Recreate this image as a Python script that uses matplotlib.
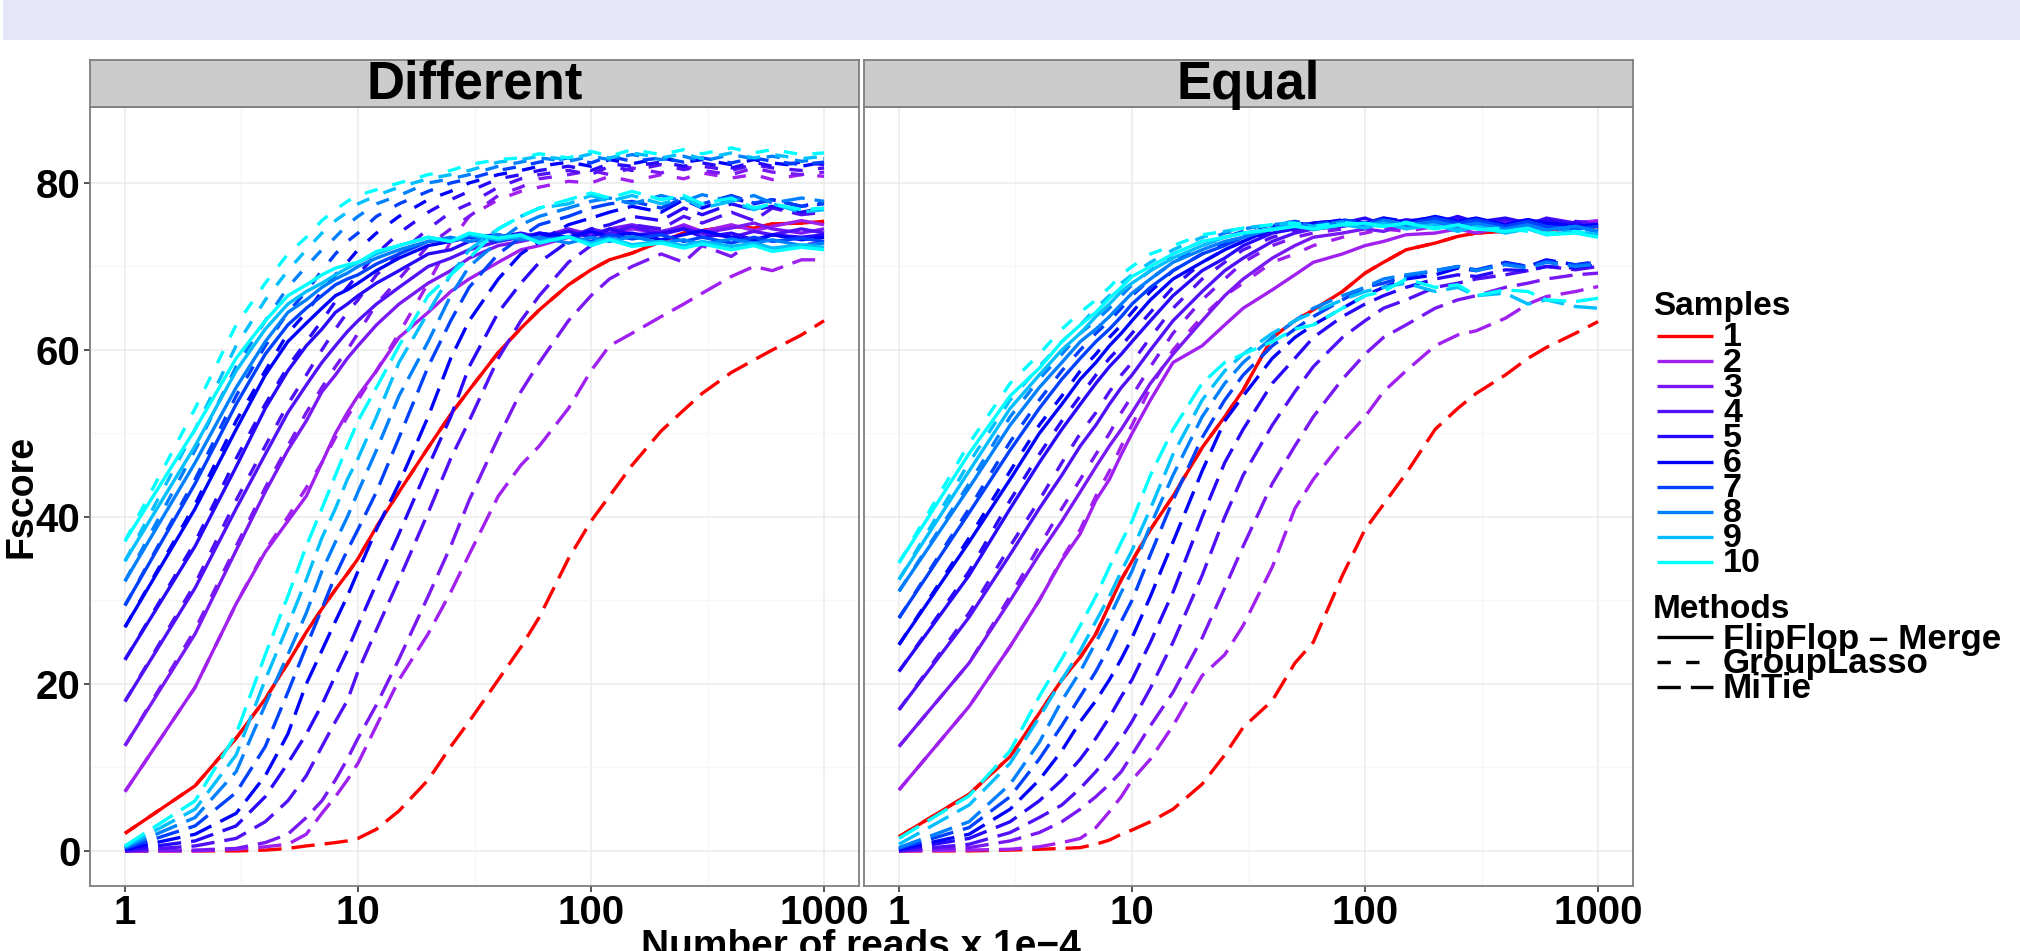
"""Fscore against read depth for three assemblers, faceted by sample design (Different / Equal)."""
import matplotlib
matplotlib.use("Agg")
import matplotlib.pyplot as plt
from matplotlib.lines import Line2D
from matplotlib.patches import Rectangle

plt.rcParams["font.family"] = ["Liberation Sans", "DejaVu Sans"]
plt.rcParams["font.weight"] = "bold"

# ---- data ------------------------------------------------------------------------
READS = [1, 2, 3, 4, 5, 6, 7, 8, 9, 10, 12, 15, 20, 25, 30, 40, 50, 60, 80, 100,
         120, 150, 200, 250, 300, 400, 500, 600, 800, 1000]
SAMPLES = ["1", "2", "3", "4", "5", "6", "7", "8", "9", "10"]
METHODS = ["FlipFlop \u2013 Merge", "GroupLasso", "MiTie"]
PANELS = ["Different", "Equal"]
COLOURS = ["#FF0000", "#A020F0", "#7818F4", "#5010F8", "#2808FB",
           "#0000FF", "#0040FF", "#0080FF", "#00BFFF", "#00FFFF"]
X_TICKS = [1, 10, 100, 1000]
X_TICKLABELS = ["1", "10", "100", "1000"]
Y_TICKS = [0, 20, 40, 60, 80]

diff_flipflop = [
    [2.1, 7.8, 13.5, 18.2, 22.5, 26.2, 29.0, 31.3, 33.2, 35.0, 38.8, 43.0, 48.3, 52.3, 55.2, 59.7, 62.6, 64.8, 67.8, 69.6, 70.8, 71.6, 73.0, 74.0, 74.3, 74.8, 74.6, 75.1, 75.2, 75.4],
    [7.1, 19.6, 29.6, 35.8, 39.5, 42.5, 46.5, 50.0, 52.5, 54.5, 57.5, 61.5, 64.5, 67.0, 68.5, 70.5, 72.0, 72.5, 73.5, 74.0, 73.5, 74.5, 74.0, 75.0, 74.2, 75.0, 74.3, 74.8, 75.5, 75.0],
    [12.6, 26.0, 36.0, 43.0, 48.0, 51.5, 55.0, 57.0, 59.0, 60.5, 63.0, 65.5, 68.0, 69.5, 71.0, 72.5, 73.0, 73.5, 74.5, 73.8, 74.5, 75.0, 74.2, 74.8, 74.0, 74.6, 75.2, 74.5, 74.0, 74.5],
    [17.9, 31.5, 41.0, 47.5, 52.5, 55.8, 58.5, 60.5, 62.2, 63.5, 65.5, 67.5, 70.0, 71.0, 72.0, 73.0, 73.5, 74.0, 73.5, 74.5, 74.0, 74.8, 73.8, 74.5, 74.0, 73.5, 74.2, 73.8, 74.5, 74.0],
    [22.9, 36.5, 46.0, 53.0, 57.5, 60.5, 62.5, 64.5, 65.5, 66.5, 68.0, 69.5, 71.5, 72.0, 73.0, 73.5, 74.0, 73.5, 74.2, 73.5, 74.5, 73.8, 74.0, 74.5, 73.5, 74.0, 73.2, 73.8, 73.5, 73.8],
    [26.8, 41.0, 50.5, 57.0, 61.0, 63.2, 65.0, 66.5, 67.2, 68.0, 69.5, 71.0, 72.5, 73.0, 73.5, 73.8, 73.2, 74.0, 73.5, 74.2, 73.6, 74.0, 73.2, 73.8, 74.3, 73.5, 73.0, 73.8, 73.2, 73.5],
    [29.4, 44.0, 53.5, 59.5, 63.0, 65.0, 66.5, 67.8, 68.5, 69.0, 70.3, 71.5, 73.0, 73.2, 73.5, 73.0, 73.8, 73.2, 73.6, 73.0, 73.8, 73.3, 73.8, 73.0, 73.5, 72.8, 73.5, 73.0, 73.4, 73.0],
    [32.3, 46.5, 55.5, 61.0, 64.5, 66.0, 67.5, 68.5, 69.2, 70.0, 71.0, 72.0, 73.0, 73.5, 73.0, 73.8, 73.2, 73.5, 72.8, 73.5, 73.0, 73.6, 72.8, 73.2, 72.6, 73.3, 72.8, 73.2, 72.5, 72.8],
    [34.7, 48.5, 57.5, 62.5, 65.5, 67.0, 68.0, 69.0, 69.8, 70.5, 71.5, 72.5, 73.5, 73.0, 73.8, 73.2, 73.6, 73.0, 73.5, 72.8, 73.4, 72.6, 73.0, 72.5, 73.0, 72.4, 72.8, 72.2, 72.6, 72.3],
    [37.1, 50.5, 59.0, 63.5, 66.5, 67.8, 69.0, 69.8, 70.2, 70.5, 71.8, 72.5, 73.5, 73.0, 74.0, 73.4, 73.8, 72.8, 73.6, 72.5, 73.2, 72.4, 72.8, 72.2, 72.7, 72.0, 72.5, 71.8, 72.3, 72.0],
]
diff_grouplasso = [
    [2.1, 7.8, 13.5, 18.2, 22.5, 26.2, 29.0, 31.3, 33.2, 35.0, 38.8, 43.0, 48.3, 52.3, 55.2, 59.7, 62.6, 64.8, 67.8, 69.6, 70.8, 71.6, 73.0, 74.0, 74.3, 74.8, 74.6, 75.1, 75.2, 75.4],
    [7.1, 19.6, 29.6, 36.0, 40.0, 43.5, 46.5, 49.5, 52.0, 54.0, 57.5, 62.0, 68.0, 73.0, 76.0, 78.0, 79.0, 79.5, 80.2, 80.0, 80.8, 80.2, 81.0, 80.5, 81.2, 80.6, 81.0, 80.4, 81.0, 80.8],
    [12.6, 26.5, 36.5, 43.5, 48.5, 52.5, 55.5, 58.0, 60.0, 62.0, 65.5, 68.5, 72.5, 74.5, 76.0, 78.5, 79.5, 80.5, 81.0, 81.5, 81.0, 81.8, 81.2, 82.0, 81.5, 81.0, 81.8, 81.3, 81.0, 81.3],
    [17.9, 32.0, 42.0, 48.5, 53.5, 57.0, 60.0, 62.5, 64.5, 66.0, 69.0, 71.5, 74.5, 76.5, 77.5, 79.5, 80.5, 81.0, 81.5, 81.0, 82.0, 81.5, 82.2, 81.6, 82.0, 81.5, 82.2, 81.8, 81.5, 81.8],
    [22.9, 37.0, 47.0, 53.5, 58.0, 61.0, 63.5, 65.8, 67.5, 69.0, 71.5, 74.0, 76.5, 78.0, 79.0, 80.5, 81.0, 81.5, 82.0, 81.5, 82.3, 82.0, 82.5, 82.0, 82.4, 81.8, 82.5, 82.0, 82.5, 82.2],
    [26.8, 41.5, 51.5, 57.5, 62.0, 64.5, 67.0, 69.0, 70.5, 72.0, 74.0, 76.0, 78.0, 79.0, 80.0, 81.0, 81.5, 82.0, 82.5, 82.0, 82.8, 82.3, 83.0, 82.5, 82.8, 82.2, 82.8, 82.4, 82.0, 82.5],
    [29.4, 44.5, 54.5, 60.5, 64.5, 67.0, 69.5, 71.5, 73.0, 74.0, 76.0, 77.5, 79.0, 80.0, 80.5, 81.5, 82.0, 82.5, 83.0, 82.4, 83.2, 82.6, 83.0, 82.5, 83.0, 82.4, 83.0, 82.6, 82.2, 82.5],
    [32.3, 48.0, 58.0, 63.5, 67.5, 70.0, 72.0, 73.5, 75.0, 76.0, 77.5, 78.5, 80.0, 80.5, 81.0, 82.0, 82.5, 83.0, 82.6, 83.2, 82.8, 83.4, 82.8, 83.2, 82.6, 83.4, 82.9, 83.2, 82.6, 82.9],
    [34.7, 50.5, 60.5, 66.0, 69.5, 72.0, 74.0, 75.5, 76.5, 77.5, 78.5, 79.5, 80.5, 81.0, 81.5, 82.5, 82.8, 83.2, 82.8, 83.5, 83.0, 83.6, 83.0, 83.5, 82.9, 83.6, 83.0, 83.4, 82.9, 83.2],
    [37.1, 53.0, 63.0, 68.0, 71.5, 73.5, 75.5, 76.8, 77.8, 78.5, 79.2, 80.0, 81.0, 81.5, 82.2, 82.8, 83.0, 83.5, 83.0, 83.8, 83.2, 84.0, 83.4, 84.0, 83.5, 84.2, 83.6, 84.0, 83.4, 83.6],
]
diff_mitie = [
    [0.0, 0.0, 0.0, 0.1, 0.3, 0.6, 0.8, 1.0, 1.2, 1.5, 2.6, 4.8, 8.5, 12.5, 15.5, 20.5, 24.4, 28.0, 35.0, 39.5, 42.5, 46.2, 50.3, 52.8, 54.8, 57.3, 58.8, 60.0, 61.8, 63.5],
    [0.0, 0.0, 0.2, 0.5, 0.8, 2.0, 4.5, 6.5, 8.5, 10.5, 15.0, 20.5, 26.0, 31.0, 35.5, 42.5, 46.2, 48.5, 53.0, 57.5, 60.5, 62.0, 64.0, 65.5, 66.8, 68.8, 70.0, 69.5, 70.8, 70.8],
    [0.0, 0.1, 0.3, 1.0, 2.0, 4.0, 6.0, 8.5, 11.0, 13.5, 17.5, 23.0, 30.5, 36.5, 42.0, 49.5, 55.0, 58.5, 63.5, 66.5, 68.5, 70.0, 71.5, 70.5, 72.5, 71.2, 73.0, 72.0, 72.5, 73.0],
    [0.0, 0.6, 1.5, 3.5, 6.0, 9.0, 12.5, 15.5, 18.0, 21.5, 26.5, 32.5, 40.5, 47.0, 51.5, 59.0, 63.5, 66.5, 70.5, 72.5, 73.5, 75.0, 74.5, 76.0, 75.2, 76.5, 75.5, 77.0, 76.2, 76.5],
    [0.1, 1.2, 3.0, 6.5, 10.5, 14.0, 17.5, 21.0, 24.0, 27.0, 32.0, 38.0, 46.0, 52.0, 58.0, 64.5, 68.0, 70.5, 73.0, 74.5, 75.0, 76.0, 75.5, 77.0, 76.2, 77.5, 76.8, 77.2, 76.5, 77.0],
    [0.2, 2.0, 4.5, 9.0, 14.0, 20.0, 24.0, 27.5, 30.5, 33.5, 38.5, 44.0, 52.0, 59.0, 63.5, 68.5, 71.5, 73.0, 75.0, 75.8, 76.5, 77.2, 76.5, 78.0, 77.0, 78.2, 77.5, 78.0, 77.2, 77.8],
    [0.3, 3.0, 7.0, 12.5, 19.0, 24.5, 29.0, 33.0, 36.0, 38.5, 43.0, 49.5, 58.0, 63.5, 67.5, 71.5, 73.5, 75.0, 76.0, 77.0, 77.5, 77.8, 77.0, 78.2, 77.5, 78.5, 77.6, 78.0, 77.2, 77.5],
    [0.4, 4.0, 9.5, 17.5, 23.5, 28.5, 33.5, 37.0, 40.0, 43.0, 48.0, 54.5, 61.0, 66.5, 70.0, 73.0, 75.0, 76.0, 77.0, 77.8, 78.2, 77.5, 78.5, 77.8, 78.6, 77.8, 78.5, 77.6, 78.2, 77.8],
    [0.5, 5.0, 11.5, 20.5, 27.0, 32.5, 37.5, 41.0, 44.5, 47.0, 52.0, 58.5, 64.5, 69.0, 72.0, 74.5, 76.0, 77.0, 77.5, 78.5, 77.8, 78.5, 77.5, 78.2, 77.0, 77.8, 76.8, 77.5, 76.5, 76.8],
    [0.6, 6.0, 14.0, 23.5, 30.5, 36.5, 41.0, 45.0, 48.5, 51.5, 55.5, 60.5, 66.5, 69.0, 71.0, 74.5, 76.0, 77.0, 78.0, 78.8, 78.2, 79.0, 78.0, 78.5, 77.5, 78.2, 77.0, 77.5, 76.8, 77.0],
]
equal_flipflop = [
    [1.7, 6.8, 11.3, 16.5, 20.5, 23.2, 26.0, 29.5, 32.5, 34.7, 38.5, 42.5, 48.3, 52.0, 55.2, 61.5, 63.5, 64.8, 67.0, 69.2, 70.5, 72.0, 72.8, 73.6, 74.0, 74.2, 74.5, 74.3, 74.6, 74.8],
    [7.3, 17.3, 24.5, 30.0, 34.8, 38.0, 42.0, 44.5, 47.5, 50.0, 54.0, 58.5, 60.5, 63.0, 65.0, 67.2, 69.0, 70.5, 71.5, 72.5, 73.0, 73.8, 74.0, 74.5, 74.0, 74.8, 74.5, 75.0, 75.2, 75.5],
    [12.5, 22.5, 30.0, 35.5, 39.5, 43.0, 46.0, 48.5, 50.5, 52.5, 56.0, 59.5, 63.5, 66.5, 68.5, 71.0, 72.5, 73.5, 74.0, 74.5, 74.2, 75.0, 74.6, 75.2, 74.8, 75.3, 74.8, 75.5, 75.0, 75.2],
    [16.9, 28.0, 35.5, 41.0, 45.0, 48.5, 51.0, 53.5, 55.5, 57.0, 60.0, 63.5, 67.0, 69.5, 71.0, 73.0, 74.0, 74.5, 74.8, 75.3, 74.8, 75.5, 75.0, 75.8, 75.2, 75.6, 75.0, 75.8, 75.2, 75.0],
    [21.5, 33.0, 41.0, 46.5, 50.5, 53.5, 56.0, 58.0, 59.5, 61.0, 63.5, 66.5, 69.5, 71.0, 72.5, 74.0, 74.5, 75.0, 75.2, 75.8, 75.0, 75.6, 75.2, 76.0, 75.3, 75.8, 75.2, 75.6, 75.0, 74.8],
    [24.7, 37.0, 44.5, 50.0, 53.5, 56.5, 58.5, 60.5, 62.0, 63.5, 66.0, 68.5, 70.5, 72.0, 73.0, 74.5, 74.8, 75.2, 75.5, 75.0, 75.8, 75.2, 76.0, 75.4, 75.8, 75.0, 75.6, 75.2, 74.8, 75.0],
    [27.9, 40.5, 48.0, 53.0, 56.5, 59.0, 61.0, 62.5, 64.0, 65.5, 67.5, 69.5, 71.5, 72.5, 73.5, 74.5, 75.0, 74.6, 75.4, 75.0, 75.6, 75.0, 75.8, 75.2, 75.6, 74.8, 75.4, 74.8, 74.5, 74.8],
    [31.1, 43.5, 51.0, 55.5, 58.5, 61.0, 62.5, 64.0, 65.5, 66.8, 68.5, 70.5, 72.0, 73.0, 73.5, 74.5, 75.0, 74.5, 75.2, 74.8, 75.5, 74.8, 75.4, 74.8, 75.2, 74.5, 75.0, 74.4, 74.8, 74.2],
    [32.5, 45.5, 53.0, 57.0, 60.0, 62.0, 64.0, 65.5, 67.0, 68.0, 69.5, 71.0, 72.5, 73.5, 74.0, 74.5, 75.0, 74.4, 75.0, 74.6, 75.2, 74.5, 75.0, 74.2, 74.8, 74.0, 74.5, 73.8, 74.2, 73.8],
    [34.5, 47.6, 54.5, 57.8, 61.0, 63.0, 64.5, 66.2, 67.5, 68.8, 70.0, 71.5, 73.0, 73.5, 74.0, 74.4, 74.8, 74.5, 75.0, 75.2, 74.8, 75.2, 74.5, 75.0, 74.5, 74.2, 74.6, 73.8, 74.0, 73.5],
]
equal_grouplasso = [
    [1.7, 6.8, 11.3, 16.5, 20.5, 23.2, 26.0, 29.5, 32.5, 34.7, 38.5, 42.5, 48.3, 52.0, 55.2, 61.5, 63.5, 64.8, 67.0, 69.2, 70.5, 72.0, 72.8, 73.6, 74.0, 74.2, 74.5, 74.3, 74.6, 74.8],
    [7.3, 17.3, 24.5, 30.0, 35.0, 38.5, 42.5, 45.5, 48.5, 51.0, 55.5, 60.0, 64.0, 66.5, 68.0, 70.5, 71.5, 72.5, 73.5, 74.0, 74.5, 74.2, 74.8, 75.0, 74.6, 75.2, 74.8, 75.4, 75.0, 75.2],
    [12.5, 22.5, 30.5, 36.5, 41.0, 44.5, 47.5, 50.0, 52.5, 54.5, 58.0, 62.0, 66.0, 68.5, 70.5, 72.5, 73.5, 74.0, 74.5, 75.0, 74.6, 75.2, 74.8, 75.4, 75.0, 75.5, 75.0, 75.3, 74.8, 75.0],
    [16.9, 28.5, 36.5, 42.0, 46.5, 50.0, 52.5, 55.0, 57.0, 58.5, 61.5, 65.0, 68.5, 70.5, 72.0, 73.5, 74.2, 74.8, 75.2, 75.0, 75.5, 75.0, 75.6, 75.2, 75.8, 75.2, 75.6, 75.0, 75.4, 75.2],
    [21.5, 33.5, 42.0, 47.5, 51.5, 54.5, 57.0, 59.0, 60.5, 62.0, 64.5, 67.5, 70.5, 72.0, 73.0, 74.2, 74.8, 75.2, 75.5, 75.2, 75.8, 75.3, 75.8, 75.2, 75.6, 75.0, 75.5, 75.0, 75.2, 74.8],
    [24.7, 37.5, 45.5, 51.0, 54.5, 57.5, 59.5, 61.5, 63.0, 64.5, 67.0, 69.5, 71.5, 72.8, 73.8, 74.8, 75.2, 75.0, 75.6, 75.2, 75.8, 75.4, 75.9, 75.3, 75.6, 75.0, 75.4, 75.0, 74.7, 75.0],
    [27.9, 41.0, 49.0, 54.0, 57.5, 60.0, 62.0, 63.5, 65.0, 66.5, 68.5, 70.5, 72.5, 73.5, 74.2, 75.0, 75.4, 75.0, 75.6, 75.2, 75.6, 75.0, 75.6, 75.0, 75.4, 74.8, 75.2, 74.6, 74.8, 74.5],
    [31.1, 44.0, 52.0, 56.5, 59.5, 62.0, 63.5, 65.0, 66.5, 67.8, 69.5, 71.5, 73.0, 74.0, 74.5, 75.0, 75.3, 74.8, 75.4, 75.0, 75.6, 75.0, 75.3, 74.7, 75.0, 74.5, 74.8, 74.3, 74.6, 74.2],
    [32.5, 46.5, 54.0, 58.0, 61.0, 63.0, 65.0, 66.5, 68.0, 69.0, 70.5, 72.0, 73.5, 74.2, 74.6, 75.0, 75.3, 74.8, 75.2, 74.8, 75.3, 74.6, 75.0, 74.4, 74.8, 74.2, 74.5, 74.0, 74.2, 73.8],
    [34.5, 48.8, 56.0, 59.5, 62.5, 64.5, 66.0, 67.5, 69.0, 70.0, 71.5, 72.5, 73.8, 74.2, 74.6, 75.0, 75.2, 74.8, 75.3, 75.0, 74.8, 75.3, 74.6, 75.0, 74.4, 74.6, 74.2, 74.0, 74.2, 73.8],
]
equal_mitie = [
    [0.0, 0.0, 0.1, 0.2, 0.3, 0.4, 0.8, 1.3, 2.0, 2.5, 3.5, 5.0, 8.0, 11.5, 14.8, 18.0, 22.5, 25.0, 33.0, 38.5, 41.5, 45.2, 50.5, 53.0, 54.8, 57.0, 59.0, 60.3, 62.0, 63.4],
    [0.0, 0.1, 0.2, 0.5, 1.0, 1.5, 2.8, 4.7, 6.5, 8.5, 11.0, 15.0, 21.0, 23.5, 27.0, 34.0, 41.0, 44.5, 49.0, 52.0, 55.0, 57.5, 60.5, 61.8, 62.3, 63.8, 65.5, 66.4, 67.0, 67.6],
    [0.0, 0.4, 1.2, 2.2, 3.5, 5.0, 6.5, 8.0, 9.5, 11.5, 15.0, 19.0, 25.5, 31.5, 36.5, 44.0, 48.5, 52.0, 56.5, 59.5, 61.5, 63.0, 65.0, 66.0, 66.5, 67.5, 68.0, 68.5, 69.0, 69.2],
    [0.0, 0.8, 2.2, 4.0, 5.5, 7.5, 9.5, 11.5, 13.5, 15.5, 19.5, 25.0, 33.0, 40.0, 45.0, 51.0, 55.0, 58.0, 61.5, 63.5, 65.0, 66.0, 67.5, 68.0, 68.5, 69.0, 69.5, 70.0, 69.6, 70.0],
    [0.1, 1.5, 3.5, 6.0, 8.5, 11.0, 13.5, 16.0, 18.5, 20.5, 25.0, 31.0, 40.0, 46.5, 50.5, 56.0, 59.0, 61.5, 64.0, 65.5, 66.5, 67.5, 68.5, 69.0, 68.8, 69.6, 69.5, 70.0, 69.8, 70.2],
    [0.2, 2.0, 5.0, 8.5, 12.0, 15.5, 18.0, 20.5, 23.0, 25.5, 30.5, 37.0, 45.5, 51.5, 54.5, 59.0, 61.5, 63.0, 65.0, 66.5, 67.5, 68.5, 69.0, 69.8, 69.5, 70.5, 70.0, 70.8, 70.2, 70.6],
    [0.3, 2.8, 6.5, 11.0, 15.0, 18.5, 21.5, 24.5, 27.5, 30.0, 35.5, 42.0, 49.5, 54.0, 57.0, 60.5, 62.5, 64.0, 66.0, 67.5, 68.0, 68.8, 69.5, 70.0, 69.6, 70.4, 70.0, 70.6, 70.2, 70.5],
    [0.4, 3.5, 8.0, 13.0, 18.0, 21.5, 25.0, 28.0, 31.0, 33.5, 39.0, 45.0, 52.0, 56.0, 58.5, 61.5, 63.5, 65.0, 66.5, 67.5, 68.5, 69.0, 69.5, 70.0, 69.5, 70.2, 69.8, 70.5, 70.0, 70.3],
    [0.8, 5.5, 10.5, 16.0, 20.5, 24.0, 27.5, 30.5, 33.5, 36.0, 41.0, 47.5, 54.0, 57.5, 59.5, 62.0, 63.5, 64.5, 66.0, 67.0, 67.5, 68.0, 67.0, 67.5, 66.5, 66.8, 65.5, 66.0, 65.2, 65.0],
    [1.5, 6.6, 12.0, 18.5, 23.0, 27.0, 30.5, 34.0, 37.0, 39.5, 45.0, 50.5, 56.0, 58.5, 59.5, 61.0, 62.5, 63.0, 65.0, 66.5, 67.0, 68.5, 67.5, 67.8, 66.5, 67.2, 67.0, 66.0, 65.8, 66.2],
]

# ---- layout (pixel boxes of the 2020x951 canvas) ----------------------------------
W, H = 2020, 951
LW = 2.4
DASHES = [None, (4, 4.6), (7, 3)]
GREY_BORDER = "#7F7F7F"


def box(x0, y0, x1, y1):
    return [x0 / W, 1 - y1 / H, (x1 - x0) / W, (y1 - y0) / H]


fig = plt.figure(figsize=(W / 100, H / 100), dpi=100)
fig.patches.append(Rectangle((3 / W, 1 - 40 / H), 1, 40 / H, transform=fig.transFigure,
                             facecolor="#E6E6FA", edgecolor="none", zorder=0))

panel_boxes = [(90, 859), (864, 1633)]
tables = [(diff_flipflop, diff_grouplasso, diff_mitie),
          (equal_flipflop, equal_grouplasso, equal_mitie)]

for p, (name, (x0, x1), data) in enumerate(zip(PANELS, panel_boxes, tables)):
    ax = fig.add_axes(box(x0, 107, x1, 886))
    ax.set_xscale("log")
    ax.set_xlim(10 ** -0.15, 10 ** 3.15)
    ax.set_ylim(-4.2, 89.1)

    for s in range(len(SAMPLES)):
        for m, table in enumerate(data):
            line, = ax.plot(READS, table[s], color=COLOURS[s], lw=LW,
                            solid_capstyle="butt", dash_capstyle="butt",
                            solid_joinstyle="round", dash_joinstyle="round", zorder=3)
            if DASHES[m]:
                line.set_dashes(DASHES[m])

    ax.set_xticks(X_TICKS)
    ax.set_xticklabels(X_TICKLABELS)
    ax.set_xticks([10 ** 0.5, 10 ** 1.5, 10 ** 2.5], minor=True)
    ax.set_yticks(Y_TICKS)
    ax.set_yticks([10, 30, 50, 70], minor=True)
    ax.grid(which="major", color="#EBEBEB", lw=1.1, zorder=0)
    ax.grid(which="minor", color="#F6F6F6", lw=0.9, zorder=0)
    ax.set_axisbelow(True)
    ax.tick_params(which="minor", length=0)
    ax.tick_params(axis="x", which="major", length=4, width=1.2, color="#333333",
                   labelsize=29, pad=1.5, labelcolor="black")
    if p == 0:
        ax.tick_params(axis="y", which="major", length=4, width=1.2, color="#333333",
                       labelsize=29, pad=3, labelcolor="black")
    else:
        ax.tick_params(axis="y", which="major", length=0, labelleft=False)
    for sp in ax.spines.values():
        sp.set_color(GREY_BORDER)
        sp.set_linewidth(1.3)

    strip = fig.add_axes(box(x0, 60, x1, 107))
    strip.set_facecolor("#CCCCCC")
    strip.set_xticks([])
    strip.set_yticks([])
    for sp in strip.spines.values():
        sp.set_color(GREY_BORDER)
        sp.set_linewidth(1.3)
    strip.text(0.5, 0.47, name, transform=strip.transAxes, ha="center", va="center",
               fontsize=38)

fig.text(22 / W, 1 - 496 / H, "Fscore", rotation=90, ha="center", va="center", fontsize=27)
fig.text(861 / W, 1 - 957 / H, "Number of reads x 1e\u22124", ha="center", va="baseline",
         fontsize=28)

# ---- legends ----------------------------------------------------------------------
KEY_X0, KEY_X1, LABEL_X = 1657, 1713, 1723
fig.text(1653 / W, 1 - 315 / H, "Samples", ha="left", va="baseline", fontsize=24)
for i, (lab, col) in enumerate(zip(SAMPLES, COLOURS)):
    y = 336 + 25.1 * i
    fig.lines.append(Line2D([KEY_X0 / W, KEY_X1 / W], [1 - y / H, 1 - y / H],
                            transform=fig.transFigure, color=col, lw=LW,
                            solid_capstyle="butt"))
    fig.text(LABEL_X / W, 1 - (y + 2) / H, lab, ha="left", va="center", fontsize=24.5)

fig.text(1653 / W, 1 - 618 / H, "Methods", ha="left", va="baseline", fontsize=24)
for i, (lab, dash) in enumerate(zip(METHODS, DASHES)):
    y = 637 + 25 * i
    key = Line2D([KEY_X0 / W, KEY_X1 / W], [1 - y / H, 1 - y / H],
                 transform=fig.transFigure, color="black", lw=LW,
                 solid_capstyle="butt", dash_capstyle="butt")
    if dash:
        key.set_dashes(dash)
    fig.lines.append(key)
    fig.text(LABEL_X / W, 1 - (y + 2) / H, lab, ha="left", va="center", fontsize=25.2)

fig.savefig("out.png", dpi=100)
